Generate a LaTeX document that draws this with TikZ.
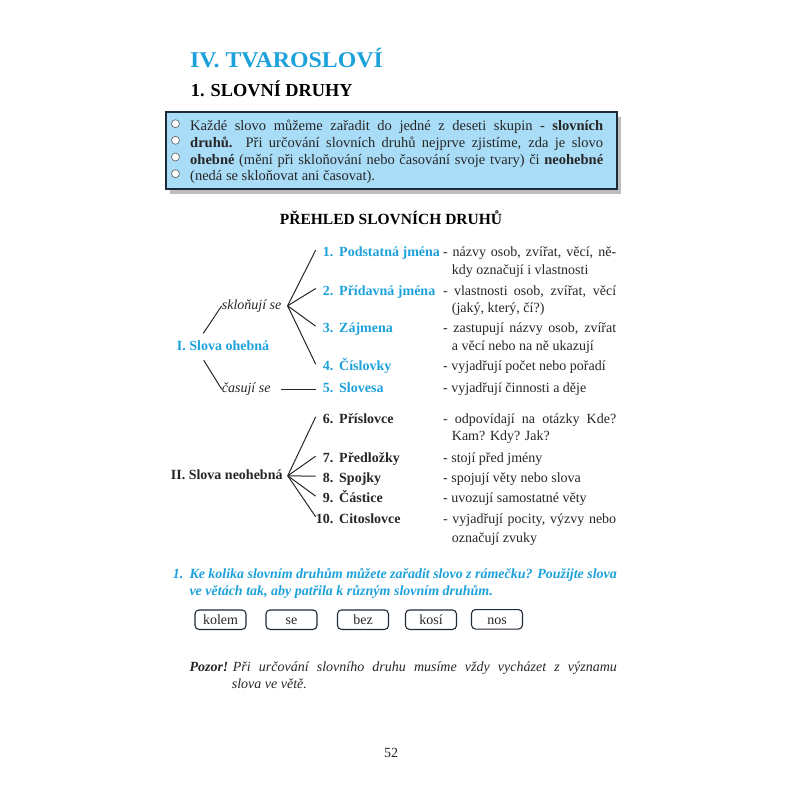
\documentclass[tikz,border=0pt]{standalone}
\usepackage{fontspec}
\setmainfont{Liberation Serif}
\newfontfamily\titlefont[FakeStretch=1.06]{Liberation Serif}
\usepackage{xcolor}
\usetikzlibrary{shadows}

\definecolor{titlecyan}{HTML}{1DA1DB}
\definecolor{boxblue}{HTML}{A9DDF7}
\definecolor{shadowgray}{HTML}{BDBDBD}
\definecolor{framedark}{HTML}{1E2A36}
\definecolor{textdark}{HTML}{262626}
\definecolor{bulletgray}{HTML}{6B6B6B}

\newcommand{\druhnum}[1]{\makebox[17.5pt][r]{#1}\hspace{5.8pt}}

\begin{document}
\begin{tikzpicture}[
    x=1pt, y=-1pt,
    txt/.style={anchor=base west, inner sep=0pt, text height=10pt, text depth=3pt, text=textdark, font=\fontsize{14}{17}\selectfont},
    boxtxt/.style={txt, font=\fontsize{14.5}{17}\selectfont},
    druh/.style={txt, font=\fontsize{14}{17}\selectfont\bfseries},
    cyandruh/.style={druh, text=titlecyan},
    branch/.style={txt, font=\fontsize{14}{17}\selectfont\itshape},
    exercise/.style={txt, text=titlecyan, font=\fontsize{14}{17}\selectfont\bfseries\itshape},
    note/.style={txt, font=\fontsize{14}{17}\selectfont\itshape},
    bullet/.style={circle, draw=bulletgray, fill=white, line width=0.7pt, minimum size=8pt, inner sep=0pt},
    infobox/.style={rectangle, draw=framedark, fill=boxblue, line width=1.3pt, minimum width=451pt, minimum height=77pt,
        drop shadow={shadow xshift=4pt, shadow yshift=-5pt, fill=shadowgray, opacity=1}},
    wordbox/.style={rectangle, draw=framedark, line width=1.1pt, rounded corners=4pt, minimum width=51pt, minimum height=19.5pt,
        inner sep=0pt, text height=9.5pt, text depth=0pt, text=textdark, font=\fontsize{14}{17}\selectfont},
    link/.style={draw=textdark, line width=1pt}
]
\useasboundingbox (0,0) rectangle (800,800);

% Headings
\node[txt, text=titlecyan, font=\fontsize{22.5}{27}\titlefont\bfseries] (title) at (190,67.3) {IV. TVAROSLOVÍ};
\node[txt, text=black, font=\fontsize{18.3}{22}\selectfont\bfseries] (chapter) at (190.7,96) {1. SLOVNÍ DRUHY};

% Info box
\node[infobox] (info) at (391.5,150.5) {};
\node[bullet] (b1) at (175.5,123.7) {};
\node[bullet] (b2) at (175.5,140.3) {};
\node[bullet] (b3) at (175.5,157) {};
\node[bullet] (b4) at (175.5,173.7) {};
\node[boxtxt] (info1) at (190,130.7) {\makebox[413pt][s]{Každé slovo můžeme zařadit do jedné z deseti skupin - \textbf{slovních}}};
\node[boxtxt] (info2) at (190,147.3) {\makebox[413pt][s]{\textbf{druhů.} Při určování slovních druhů nejprve zjistíme, zda je slovo}};
\node[boxtxt] (info3) at (190,164) {\makebox[413pt][s]{\textbf{ohebné} (mění při skloňování nebo časování svoje tvary) či \textbf{neohebné}}};
\node[boxtxt] (info4) at (190,180.7) {(nedá se skloňovat ani časovat).};

% Overview heading
\node[txt, anchor=base, text=black, font=\fontsize{15.5}{18}\selectfont\bfseries] (overview) at (391,224) {PŘEHLED SLOVNÍCH DRUHŮ};

% Inflected words
\node[cyandruh] (ohebna) at (176.7,350) {I. Slova ohebná};
\node[branch] (sklonuji) at (221.7,309.3) {skloňují se};
\node[branch] (casuji) at (221.7,392.7) {časují se};
\coordinate (sklfork) at ([xshift=6pt]sklonuji.east);

\node[cyandruh] (n1) at (315.7,256.7) {\druhnum{1.}Podstatná jména};
\node[cyandruh] (n2) at (315.7,295) {\druhnum{2.}Přídavná jména};
\node[cyandruh] (n3) at (315.7,332.7) {\druhnum{3.}Zájmena};
\node[cyandruh] (n4) at (315.7,370.7) {\druhnum{4.}Číslovky};
\node[cyandruh] (n5) at (315.7,392.7) {\druhnum{5.}Slovesa};

% Uninflected words
\node[druh] (neohebna) at (170.7,479.3) {II. Slova neohebná};
\coordinate (neofork) at ([xshift=5pt]neohebna.east);

\node[druh] (n6) at (315.7,423.3) {\druhnum{6.}Příslovce};
\node[druh] (n7) at (315.7,462.7) {\druhnum{7.}Předložky};
\node[druh] (n8) at (315.7,482.7) {\druhnum{8.}Spojky};
\node[druh] (n9) at (315.7,502.7) {\druhnum{9.}Částice};
\node[druh] (n10) at (315.7,523.3) {\druhnum{10.}Citoslovce};

% Descriptions
\node[txt] (d1) at (443,256.7) {\makebox[173pt][s]{- názvy osob, zvířat, věcí, ně-}};
\node[txt] (d1b) at (451.7,274) {kdy označují i vlastnosti};
\node[txt] (d2) at (443,295) {\makebox[173pt][s]{- vlastnosti osob, zvířat, věcí}};
\node[txt] (d2b) at (451.7,312.7) {(jaký, který, čí?)};
\node[txt] (d3) at (443,332.7) {\makebox[173pt][s]{- zastupují názvy osob, zvířat}};
\node[txt] (d3b) at (451.7,350) {a věcí nebo na ně ukazují};
\node[txt] (d4) at (443,370.7) {- vyjadřují počet nebo pořadí};
\node[txt] (d5) at (443,392.7) {- vyjadřují činnosti a děje};
\node[txt] (d6) at (443,423.3) {\makebox[173pt][s]{- odpovídají na otázky Kde?}};
\node[txt] (d6b) at (451.7,440) {Kam? Kdy? Jak?};
\node[txt] (d7) at (443,462.7) {- stojí před jmény};
\node[txt] (d8) at (443,482.7) {- spojují věty nebo slova};
\node[txt] (d9) at (443,502.7) {- uvozují samostatné věty};
\node[txt] (d10) at (443,523.3) {\makebox[173pt][s]{- vyjadřují pocity, výzvy nebo}};
\node[txt] (d10b) at (451.7,542.7) {označují zvuky};

% Branches
\draw[link] ([shift={(26.6pt,6.5pt)}]ohebna.north west) -- (sklonuji.west);
\draw[link] ([shift={(27pt,-7pt)}]ohebna.south west) -- (casuji.west);
\draw[link] ([xshift=10pt]casuji.east) -- (n5.west);
\draw[link] (sklfork) -- ([yshift=3pt]n1.west);
\draw[link] (sklfork) -- ([yshift=3pt]n2.west);
\draw[link] (sklfork) -- ([yshift=3pt]n3.west);
\draw[link] (sklfork) -- ([yshift=3pt]n4.west);
\draw[link] (neofork) -- ([yshift=3pt]n6.west);
\draw[link] (neofork) -- ([yshift=3pt]n7.west);
\draw[link] (neofork) -- ([yshift=3pt]n8.west);
\draw[link] (neofork) -- ([yshift=3pt]n9.west);
\draw[link] (neofork) -- ([yshift=3pt]n10.west);

% Exercise
\node[exercise] (exnum) at (172.7,578.3) {1.};
\node[exercise] (ex1) at (189.3,578.3) {\makebox[427.4pt][s]{Ke kolika slovním druhům můžete zařadit slovo z rámečku? Použijte slova}};
\node[exercise] (ex2) at (189.3,595) {ve větách tak, aby patřila k různým slovním druhům.};

\node[wordbox] (w1) at (220.5,619.7) {kolem};
\node[wordbox] (w2) at (291.5,619.7) {se};
\node[wordbox] (w3) at (363,619.7) {bez};
\node[wordbox] (w4) at (431,619.7) {kosí};
\node[wordbox] (w5) at (497,619.3) {nos};

% Note
\node[note, font=\fontsize{14}{17}\selectfont\bfseries\itshape] (pozor) at (189.3,671.7) {Pozor!};
\node[note] (note1) at (232.7,671.7) {\makebox[384pt][s]{Při určování slovního druhu musíme vždy vycházet z významu}};
\node[note] (note2) at (231.7,688.3) {slova ve větě.};

% Page number
\node[txt, anchor=base] (page) at (391,757.3) {52};

\end{tikzpicture}
\end{document}
